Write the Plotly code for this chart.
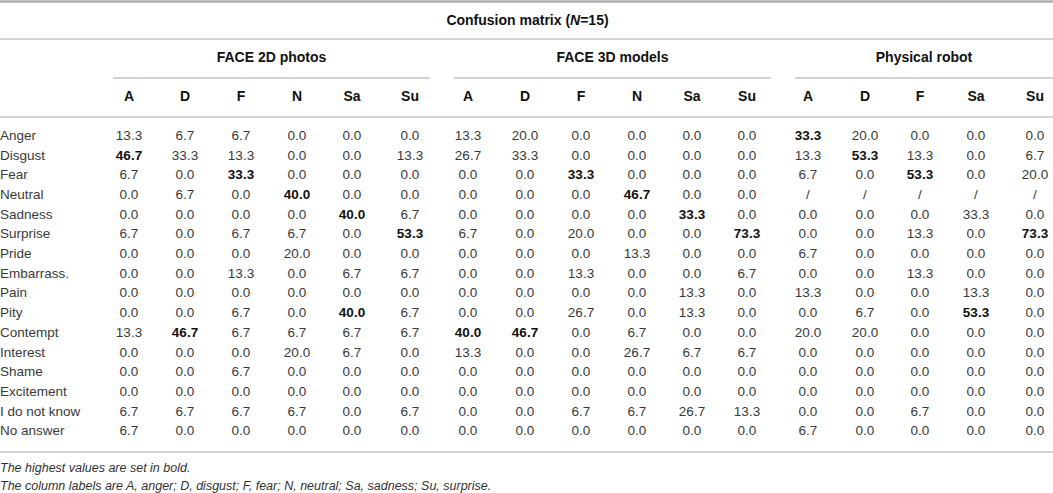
import plotly.graph_objects as go

# table content
title = "Confusion matrix (<i>N</i>=15)"
groups = ["FACE 2D photos", "FACE 3D models", "Physical robot"]
cols_2d = ["A", "D", "F", "N", "Sa", "Su"]
cols_3d = ["A", "D", "F", "N", "Sa", "Su"]
cols_robot = ["A", "D", "F", "Sa", "Su"]
row_labels = ["Anger", "Disgust", "Fear", "Neutral", "Sadness", "Surprise", "Pride",
              "Embarrass.", "Pain", "Pity", "Contempt", "Interest", "Shame",
              "Excitement", "I do not know", "No answer"]

face_2d = [
    [13.3, 6.7, 6.7, 0.0, 0.0, 0.0],
    [46.7, 33.3, 13.3, 0.0, 0.0, 13.3],
    [6.7, 0.0, 33.3, 0.0, 0.0, 0.0],
    [0.0, 6.7, 0.0, 40.0, 0.0, 0.0],
    [0.0, 0.0, 0.0, 0.0, 40.0, 6.7],
    [6.7, 0.0, 6.7, 6.7, 0.0, 53.3],
    [0.0, 0.0, 0.0, 20.0, 0.0, 0.0],
    [0.0, 0.0, 13.3, 0.0, 6.7, 6.7],
    [0.0, 0.0, 0.0, 0.0, 0.0, 0.0],
    [0.0, 0.0, 6.7, 0.0, 40.0, 6.7],
    [13.3, 46.7, 6.7, 6.7, 6.7, 6.7],
    [0.0, 0.0, 0.0, 20.0, 6.7, 0.0],
    [0.0, 0.0, 6.7, 0.0, 0.0, 0.0],
    [0.0, 0.0, 0.0, 0.0, 0.0, 0.0],
    [6.7, 6.7, 6.7, 6.7, 0.0, 6.7],
    [6.7, 0.0, 0.0, 0.0, 0.0, 0.0],
]

face_3d = [
    [13.3, 20.0, 0.0, 0.0, 0.0, 0.0],
    [26.7, 33.3, 0.0, 0.0, 0.0, 0.0],
    [0.0, 0.0, 33.3, 0.0, 0.0, 0.0],
    [0.0, 0.0, 0.0, 46.7, 0.0, 0.0],
    [0.0, 0.0, 0.0, 0.0, 33.3, 0.0],
    [6.7, 0.0, 20.0, 0.0, 0.0, 73.3],
    [0.0, 0.0, 0.0, 13.3, 0.0, 0.0],
    [0.0, 0.0, 13.3, 0.0, 0.0, 6.7],
    [0.0, 0.0, 0.0, 0.0, 13.3, 0.0],
    [0.0, 0.0, 26.7, 0.0, 13.3, 0.0],
    [40.0, 46.7, 0.0, 6.7, 0.0, 0.0],
    [13.3, 0.0, 0.0, 26.7, 6.7, 6.7],
    [0.0, 0.0, 0.0, 0.0, 0.0, 0.0],
    [0.0, 0.0, 0.0, 0.0, 0.0, 0.0],
    [0.0, 0.0, 6.7, 6.7, 26.7, 13.3],
    [0.0, 0.0, 0.0, 0.0, 0.0, 0.0],
]

# None = not applicable ("/")
robot = [
    [33.3, 20.0, 0.0, 0.0, 0.0],
    [13.3, 53.3, 13.3, 0.0, 6.7],
    [6.7, 0.0, 53.3, 0.0, 20.0],
    [None, None, None, None, None],
    [0.0, 0.0, 0.0, 33.3, 0.0],
    [0.0, 0.0, 13.3, 0.0, 73.3],
    [6.7, 0.0, 0.0, 0.0, 0.0],
    [0.0, 0.0, 13.3, 0.0, 0.0],
    [13.3, 0.0, 0.0, 13.3, 0.0],
    [0.0, 6.7, 0.0, 53.3, 0.0],
    [20.0, 20.0, 0.0, 0.0, 0.0],
    [0.0, 0.0, 0.0, 0.0, 0.0],
    [0.0, 0.0, 0.0, 0.0, 0.0],
    [0.0, 0.0, 0.0, 0.0, 0.0],
    [0.0, 0.0, 6.7, 0.0, 0.0],
    [6.7, 0.0, 0.0, 0.0, 0.0],
]

notes = ["The highest values are set in bold.",
         "The column labels are A, anger; D, disgust; F, fear; N, neutral; Sa, sadness; Su, surprise."]

# layout (pixel grid of the page)
W, H = 1053, 493
FONT = "Liberation Sans, Arial, Helvetica, sans-serif"
GREY = "#3a3a3a"
DARK = "#111111"
LINE = "#c4c4c4"
FS, FS_B = 13.5, 14
col_x = [
    [129, 185, 241, 297, 352, 410],
    [468, 525, 581, 637, 692, 747],
    [808, 865, 920, 976, 1035],
]
group_span = [(113, 430), (454, 771), (795, W)]
y_title, y_group, y_head = 21, 58, 97
y_row0, row_step = 136.5, 19.7
y_notes = [469, 487]

fig = go.Figure()

def fmt(v, is_max):
    if v is None:
        return "/"
    s = "%.1f" % v
    return "<b>%s</b>" % s if is_max else s

row_y = [y_row0 + i * row_step for i in range(len(row_labels))]

# row labels
fig.add_trace(go.Scatter(x=[0] * len(row_labels), y=row_y, text=row_labels, mode="text",
                         textposition="middle right", hoverinfo="skip",
                         textfont=dict(family=FONT, size=FS, color=GREY)))

for g, (name, cols, data) in enumerate(zip(groups, [cols_2d, cols_3d, cols_robot],
                                           [face_2d, face_3d, robot])):
    xs, ys, txt, colors = [], [], [], []
    for c in range(len(cols)):
        column = [row[c] for row in data if row[c] is not None]
        top = max(column)
        for r, row in enumerate(data):
            v = row[c]
            best = v is not None and v == top
            xs.append(col_x[g][c])
            ys.append(row_y[r])
            txt.append(fmt(v, best))
            colors.append(DARK if best else GREY)
    fig.add_trace(go.Scatter(x=xs, y=ys, text=txt, mode="text", hoverinfo="skip",
                             textfont=dict(family=FONT, size=FS, color=colors)))
    # column headers
    fig.add_trace(go.Scatter(x=col_x[g], y=[y_head] * len(cols), text=["<b>%s</b>" % c for c in cols],
                             mode="text", hoverinfo="skip",
                             textfont=dict(family=FONT, size=FS_B, color=DARK)))
    # group header + underline
    x0, x1 = group_span[g]
    fig.add_trace(go.Scatter(x=[(x0 + x1) / 2], y=[y_group], text=["<b>%s</b>" % name],
                             mode="text", hoverinfo="skip",
                             textfont=dict(family=FONT, size=FS_B, color=DARK)))
    fig.add_shape(type="line", x0=x0, x1=x1, y0=78, y1=78, line=dict(color=LINE, width=1.3))

fig.add_trace(go.Scatter(x=[W / 2 + 1], y=[y_title], text=["<b>%s</b>" % title], mode="text",
                         hoverinfo="skip", textfont=dict(family=FONT, size=FS_B, color=DARK)))

fig.add_trace(go.Scatter(x=[0, 0], y=y_notes, text=["<i>%s</i>" % n for n in notes], mode="text",
                         textposition="middle right", hoverinfo="skip",
                         textfont=dict(family=FONT, size=12.5, color="#333333")))

# horizontal rules
fig.add_shape(type="line", x0=0, x1=W, y0=1.5, y1=1.5, line=dict(color="#b0b0b0", width=2.5))
for yy in [39, 117, 452]:
    fig.add_shape(type="line", x0=0, x1=W, y0=yy, y1=yy, line=dict(color=LINE, width=1.3))

fig.update_xaxes(range=[0, W], visible=False, fixedrange=True)
fig.update_yaxes(range=[H, 0], visible=False, fixedrange=True)
fig.update_layout(width=W, height=H, margin=dict(l=0, r=0, t=0, b=0),
                  showlegend=False, plot_bgcolor="white", paper_bgcolor="white")

fig.write_html("out.html", config={"displayModeBar": False},
               post_script="document.body.style.margin='0';document.body.style.overflow='hidden';")
